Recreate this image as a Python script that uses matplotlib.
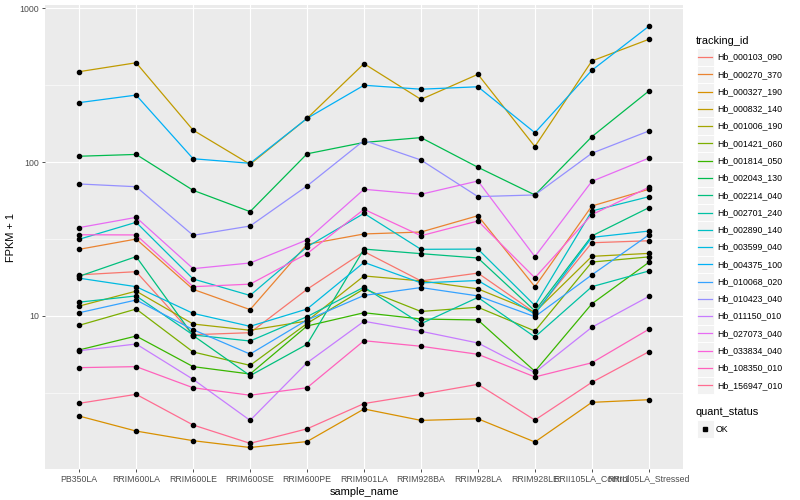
import numpy as np
import matplotlib.pyplot as plt
from matplotlib.lines import Line2D
from matplotlib.patches import Rectangle

plt.rcParams['font.family'] = ['Liberation Sans', 'DejaVu Sans']

# Data (FPKM + 1)
samples = ['PB350LA', 'RRIM600LA', 'RRIM600LE', 'RRIM600SE', 'RRIM600PE',
           'RRIM901LA', 'RRIM928BA', 'RRIM928LA', 'RRIM928LE',
           'RRII105LA_Control', 'RRII105LA_Stressed']

hb_000103_090 = [18.5, 19.4, 7.56, 7.79, 14.9, 26.2, 16.9, 19.0, 10.5, 29.9, 30.8]
hb_000270_370 = [27.1, 31.6, 14.9, 11.0, 29.2, 34.1, 35.1, 44.8, 15.5, 51.8, 66.5]
hb_000327_190 = [2.24, 1.79, 1.55, 1.40, 1.53, 2.49, 2.10, 2.15, 1.52, 2.75, 2.86]
hb_000832_140 = [386, 441, 161, 96.6, 192, 435, 255, 371, 126, 453, 626]
hb_001006_190 = [11.6, 14.5, 8.87, 8.08, 9.28, 18.2, 16.9, 15.0, 10.6, 24.4, 25.5]
hb_001421_060 = [8.70, 11.1, 5.84, 4.78, 8.94, 15.0, 10.7, 11.4, 7.99, 22.4, 24.2]
hb_001814_050 = [6.02, 7.41, 4.69, 4.20, 8.61, 10.5, 9.56, 9.42, 4.37, 12.0, 22.3]
hb_002043_130 = [109, 112, 65.5, 47.6, 113, 134, 144, 92.4, 61.1, 146, 289]
hb_002214_040 = [18.1, 24.3, 7.47, 4.10, 6.55, 27.2, 25.4, 23.8, 10.8, 33.1, 50.5]
hb_002701_240 = [12.3, 13.5, 7.53, 6.88, 9.90, 15.4, 8.91, 13.2, 7.31, 15.5, 19.6]
hb_002890_140 = [31.5, 40.6, 17.4, 13.6, 28.1, 46.4, 27.1, 27.2, 11.7, 48.1, 59.5]
hb_003599_040 = [17.6, 15.5, 10.4, 8.57, 11.1, 22.3, 16.4, 17.0, 10.3, 32.4, 35.6]
hb_004375_100 = [243, 272, 105, 98.1, 192, 315, 297, 308, 155, 394, 761]
hb_010068_020 = [10.5, 12.7, 8.15, 5.66, 9.42, 13.6, 15.3, 13.5, 9.90, 18.5, 33.6]
hb_010423_040 = [72.0, 69.1, 33.4, 38.4, 69.9, 138, 103, 59.6, 61.1, 114, 159]
hb_011150_010 = [5.95, 6.58, 3.88, 2.10, 4.97, 9.24, 7.96, 6.68, 4.30, 8.45, 13.4]
hb_027073_040 = [37.5, 43.7, 20.3, 22.1, 31.2, 66.5, 61.7, 75.3, 24.3, 74.9, 106]
hb_033834_040 = [33.7, 33.6, 15.5, 16.1, 25.4, 49.3, 33.2, 41.4, 17.7, 45.5, 68.5]
hb_108350_010 = [4.62, 4.69, 3.42, 3.06, 3.42, 6.91, 6.36, 5.64, 4.02, 4.97, 8.20]
hb_156947_010 = [2.71, 3.10, 1.96, 1.49, 1.85, 2.70, 3.10, 3.60, 2.11, 3.71, 5.86]

tracking_ids = ['Hb_000103_090', 'Hb_000270_370', 'Hb_000327_190', 'Hb_000832_140',
                'Hb_001006_190', 'Hb_001421_060', 'Hb_001814_050', 'Hb_002043_130',
                'Hb_002214_040', 'Hb_002701_240', 'Hb_002890_140', 'Hb_003599_040',
                'Hb_004375_100', 'Hb_010068_020', 'Hb_010423_040', 'Hb_011150_010',
                'Hb_027073_040', 'Hb_033834_040', 'Hb_108350_010', 'Hb_156947_010']
series = [hb_000103_090, hb_000270_370, hb_000327_190, hb_000832_140,
          hb_001006_190, hb_001421_060, hb_001814_050, hb_002043_130,
          hb_002214_040, hb_002701_240, hb_002890_140, hb_003599_040,
          hb_004375_100, hb_010068_020, hb_010423_040, hb_011150_010,
          hb_027073_040, hb_033834_040, hb_108350_010, hb_156947_010]

# ggplot hue palette, 20 levels
colors = ['#F8766D', '#EA8331', '#D89000', '#C09B00', '#A3A500', '#7CAE00',
          '#39B600', '#00BB4E', '#00BF7D', '#00C1A3', '#00BFC4', '#00BAE0',
          '#00B0F6', '#35A2FF', '#9590FF', '#C77CFF', '#E76BF3', '#FA62DB',
          '#FF62BC', '#FF6C91']

W, H = 800, 500
def fx(px):
    return px / W
def fy(py):
    return 1 - py / H

fig = plt.figure(figsize=(8, 5), dpi=100)
ax = fig.add_axes([fx(45), fy(469), (683 - 45) / W, (469 - 5) / H])
ax.set_facecolor('#EBEBEB')
for s in ax.spines.values():
    s.set_visible(False)

x = np.arange(len(samples))
for vals, c in zip(series, colors):
    ax.plot(x, vals, color=c, lw=0.9, zorder=3)
for vals in series:
    ax.plot(x, vals, 'o', color='black', ms=3.0, zorder=4)

ax.set_yscale('log')
ax.set_ylim(1.015, 1046)
ax.set_xlim(-0.6, len(samples) - 0.4)
ax.set_yticks([10, 100, 1000])
ax.set_yticklabels(['10', '100', '1000'])
ax.set_yticks([10 ** 0.5, 10 ** 1.5, 10 ** 2.5], minor=True)
ax.yaxis.set_minor_formatter(plt.NullFormatter())
ax.set_xticks(x)
ax.set_xticklabels(samples)
ax.tick_params(which='major', length=2.5, width=0.6, color='#333333',
               labelcolor='#4D4D4D', labelsize=6.3, pad=1.6)
ax.tick_params(which='minor', length=0)
ax.grid(which='major', color='white', lw=0.8, zorder=0)
ax.grid(which='minor', axis='y', color='white', lw=0.4, zorder=0)
ax.set_axisbelow(True)
ax.set_xlabel('sample_name', fontsize=7.9, labelpad=2.5)
ax.set_ylabel('FPKM + 1', fontsize=7.9, labelpad=3)

# Legends, drawn by hand in ggplot style
key = 17.28
fig.text(fx(696), fy(40.7), 'tracking_id', fontsize=7.9, va='center', ha='left')
for i, (name, c) in enumerate(zip(tracking_ids, colors)):
    yc = 57 + key * i
    fig.add_artist(Rectangle((fx(696.5), fy(yc + key / 2)), key / W, key / H,
                             transform=fig.transFigure, facecolor='#F2F2F2',
                             edgecolor='white', lw=0.7))
    fig.add_artist(Line2D([fx(698.3), fx(712)], [fy(yc), fy(yc)],
                          transform=fig.transFigure, color=c, lw=0.9))
    fig.text(fx(717), fy(yc), name, fontsize=6.3, va='center', ha='left')

fig.text(fx(696), fy(412.3), 'quant_status', fontsize=7.9, va='center', ha='left')
fig.add_artist(Rectangle((fx(696.5), fy(429 + key / 2)), key / W, key / H,
                         transform=fig.transFigure, facecolor='#F2F2F2',
                         edgecolor='white', lw=0.7))
fig.add_artist(Line2D([fx(705)], [fy(429)], transform=fig.transFigure,
                      marker='s', ms=2.2, color='black', lw=0))
fig.text(fx(716), fy(429), 'OK', fontsize=6.3, va='center', ha='left')

fig.savefig('out.png', dpi=100)
